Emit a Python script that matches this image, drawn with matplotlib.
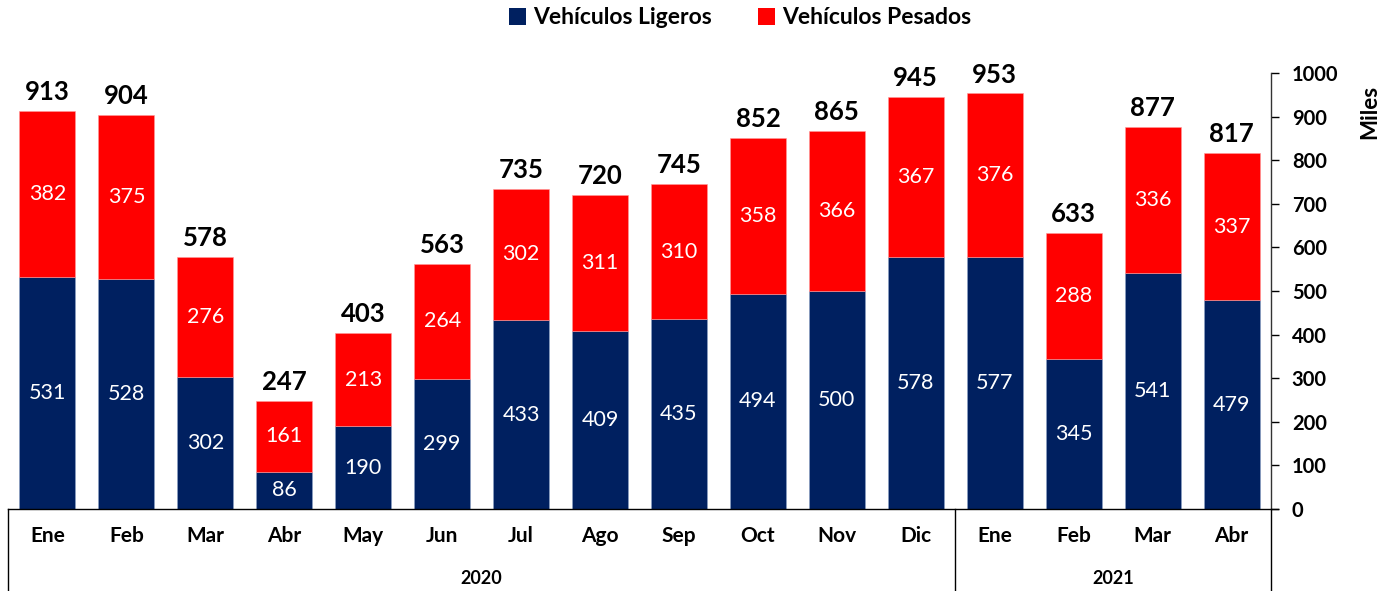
import matplotlib
matplotlib.use("Agg")
import matplotlib.pyplot as plt
from matplotlib.patches import Patch
from matplotlib.lines import Line2D

months = ["Ene", "Feb", "Mar", "Abr", "May", "Jun", "Jul", "Ago", "Sep", "Oct", "Nov", "Dic",
          "Ene", "Feb", "Mar", "Abr"]
years = ["2020", "2021"]
year_counts = [12, 4]
ligeros = [531, 528, 302, 86, 190, 299, 433, 409, 435, 494, 500, 578, 577, 345, 541, 479]
pesados = [382, 375, 276, 161, 213, 264, 302, 311, 310, 358, 366, 367, 376, 288, 336, 337]
totales = [913, 904, 578, 247, 403, 563, 735, 720, 745, 852, 865, 945, 953, 633, 877, 817]
yticks = [0, 100, 200, 300, 400, 500, 600, 700, 800, 900, 1000]

plt.rcParams['font.family'] = ['Lato', 'DejaVu Sans']
NAVY = "#002060"
RED = "#FF0000"

W, H = 1392, 591
fig = plt.figure(figsize=(W / 100, H / 100), dpi=100)
x0, x1 = 8, 1271
y0, y1 = 509, 73
ax = fig.add_axes([x0 / W, (H - y0) / H, (x1 - x0) / W, (y0 - y1) / H])

n = len(months)
xs = list(range(n))
ax.bar(xs, ligeros, width=0.71, color=NAVY, edgecolor="#8fa3c8", linewidth=0.4)
ax.bar(xs, pesados, bottom=ligeros, width=0.71, color=RED, edgecolor="#ff9a9a", linewidth=0.4)

for i in xs:
    ax.text(i, ligeros[i] / 2, str(ligeros[i]), ha="center", va="center", color="white", fontsize=15.5)
    ax.text(i, ligeros[i] + pesados[i] / 2, str(pesados[i]), ha="center", va="center",
            color="white", fontsize=15.5)
    ax.text(i, ligeros[i] + pesados[i] + 16, str(totales[i]), ha="center", va="bottom",
            color="black", fontsize=18.5, fontweight="bold")

ax.set_xlim(-0.5, n - 0.5)
ax.set_ylim(0, 1000)
ax.yaxis.tick_right()
ax.set_yticks(yticks)
ax.set_yticklabels([str(t) for t in yticks], fontsize=14.5, fontweight="bold")
ax.tick_params(axis="y", direction="out", length=6, width=1, pad=9, colors="black")
ax.set_xticks([])
for s in ["top", "left", "bottom"]:
    ax.spines[s].set_visible(False)
ax.spines["right"].set_linewidth(1)
ax.spines["right"].set_color("#333333")

# category box
def fx(px):
    return px / W

def fy(py):
    return (H - py) / H

fig.add_artist(Line2D([fx(x0), fx(x1 + 7)], [fy(y0), fy(y0)], color="black", lw=1))
bounds = [0]
for c in year_counts:
    bounds.append(bounds[-1] + c)
pitch = (x1 - x0) / n
for b in bounds:
    px = x0 + b * pitch
    fig.add_artist(Line2D([fx(px), fx(px)], [fy(y0), fy(H)], color="black", lw=1))
for i, m in enumerate(months):
    fig.text(fx(x0 + (i + 0.5) * pitch), fy(536), m, ha="center", va="center",
             fontsize=15, fontweight="bold")
for k, yr in enumerate(years):
    mid = x0 + (bounds[k] + bounds[k + 1]) / 2 * pitch
    fig.text(fx(mid), fy(578), yr, ha="center", va="center", fontsize=13, fontweight="bold")

fig.text(fx(1370), fy(112), "Miles", rotation=90, ha="center", va="center",
         fontsize=16, fontweight="bold")

handles = [Patch(facecolor=NAVY, label="Vehículos Ligeros"),
           Patch(facecolor=RED, label="Vehículos Pesados")]
fig.legend(handles=handles, loc="center", bbox_to_anchor=(fx(740), fy(18)), ncol=2,
           frameon=False, prop={"size": 16.5, "weight": "bold"}, handlelength=0.75,
           handleheight=0.75, handletextpad=0.3, columnspacing=2.0)

fig.savefig("out.png", dpi=100)
